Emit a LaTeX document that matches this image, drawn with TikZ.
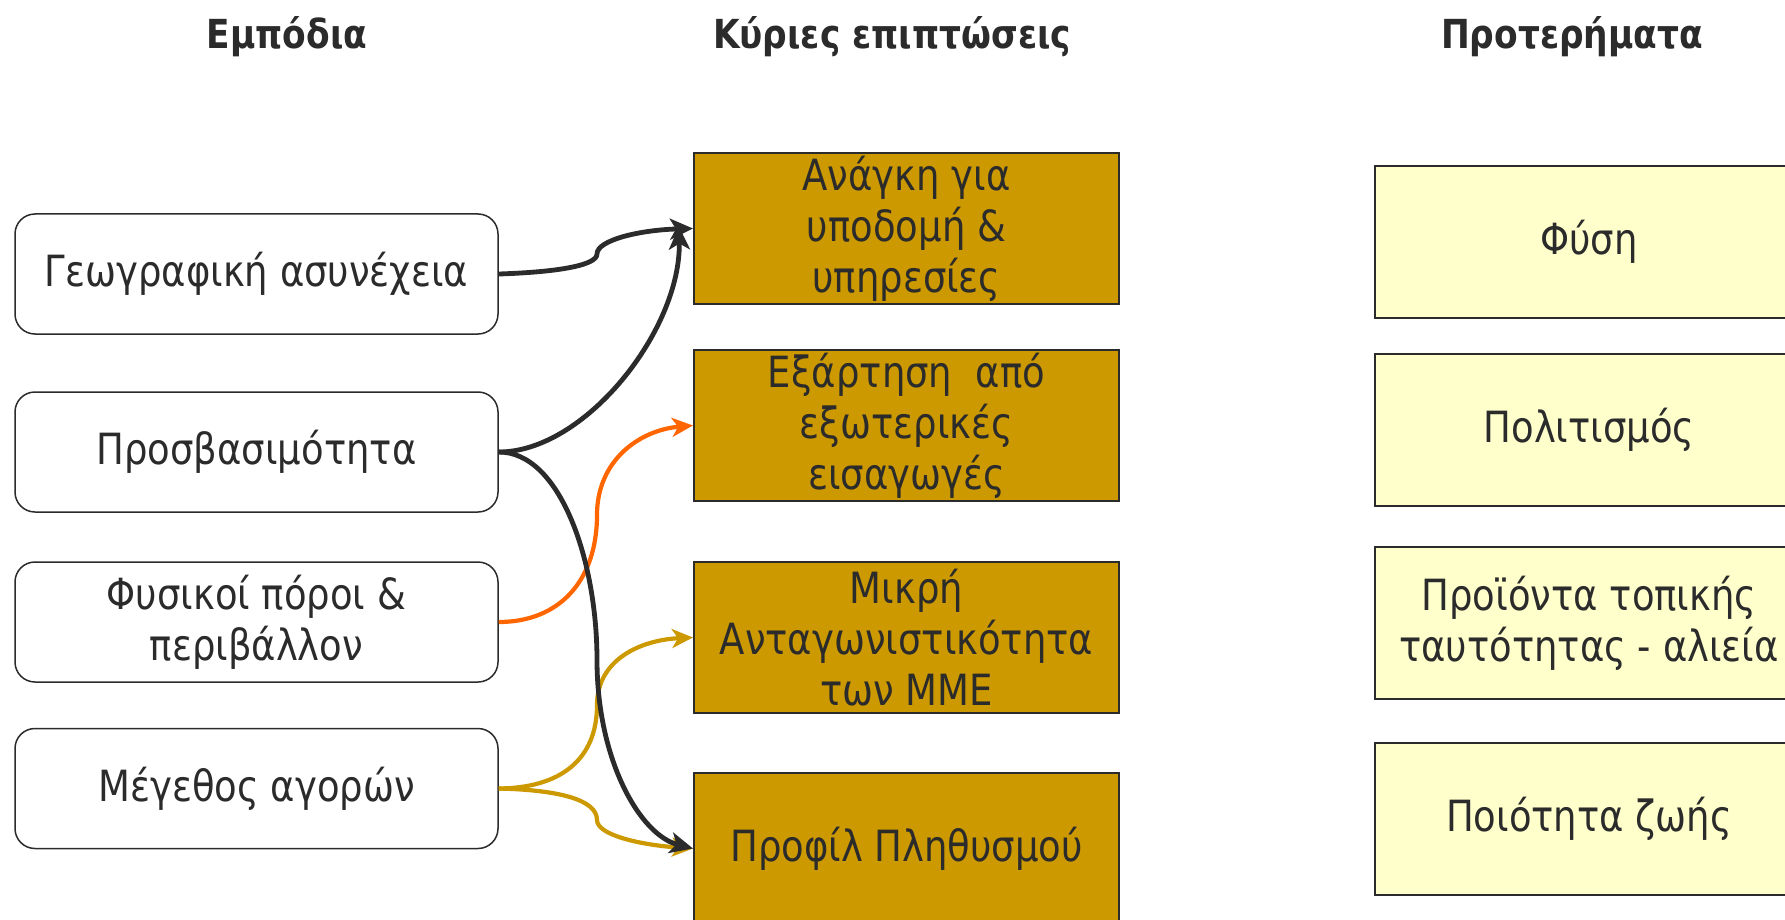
\documentclass[tikz,border=0pt]{standalone}
\usepackage{fontspec}
\setmainfont[FakeStretch=0.86]{DejaVu Sans}
\usetikzlibrary{arrows.meta,calc}
\definecolor{ink}{HTML}{2B2B2B}
\definecolor{gold}{HTML}{CC9900}
\definecolor{orng}{HTML}{FF6600}
\definecolor{pale}{HTML}{FFFFCC}
\tikzset{
 txt/.style={font=\fontsize{43}{51}\selectfont, text=ink, align=center},
 leftbox/.style={txt, draw=ink, line width=1.5pt, rounded corners=20pt, minimum width=483pt, minimum height=120pt, inner sep=0pt},
 midbox/.style={txt, draw=ink, fill=gold, line width=2pt, minimum width=425pt, minimum height=151pt, inner sep=0pt},
 rightbox/.style={txt, draw=ink, fill=pale, line width=2pt, minimum width=428pt, minimum height=152pt, inner sep=0pt},
 head/.style={font=\bfseries\fontsize{40}{48}\selectfont, text=ink},
 link/.style={line width=4.8pt, -{Stealth[length=23pt,width=21pt,inset=6pt]}},
 thinlink/.style={line width=4.2pt, -{Stealth[length=21pt,width=19pt,inset=6pt]}},
}
\begin{document}
\begin{tikzpicture}[x=1pt,y=-1pt]
\clip (0,0) rectangle (1785,920);
\fill[white] (0,0) rectangle (1785,920);
% headers
\node[head] (h1) at (287,37) {Εμπόδια};
\node[head] (h2) at (892,37) {Κύριες επιπτώσεις};
\node[head] (h3) at (1572,37) {Προτερήματα};
% left column
\node[leftbox] (L1) at (256.5,274) {Γεωγραφική ασυνέχεια};
\node[leftbox] (L2) at (256.5,452) {Προσβασιμότητα};
\node[leftbox] (L3) at (256.5,622) {Φυσικοί πόροι \&\\περιβάλλον};
\node[leftbox] (L4) at (256.5,788.5) {Μέγεθος αγορών};
% middle column
\node[midbox] (M1) at (906.5,228.5) {Ανάγκη για\\υποδομή \&\\υπηρεσίες};
\node[midbox] (M2) at (906.5,425.5) {Εξάρτηση\ \ από\\εξωτερικές\\εισαγωγές};
\node[midbox] (M3) at (906.5,637.5) {Μικρή\\Ανταγωνιστικότητα\\των ΜΜΕ};
\node[midbox] (M4) at (906.5,848.5) {Προφίλ Πληθυσμού};
% right column
\node[rightbox] (R1) at (1589,242) {Φύση};
\node[rightbox] (R2) at (1589,430) {Πολιτισμός};
\node[rightbox] (R3) at (1589,623) {Προϊόντα τοπικής\\ταυτότητας - αλιεία};
\node[rightbox] (R4) at (1589,818.5) {Ποιότητα ζωής};
\coordinate (m1b) at ($(M1.west)+(-14,-2)$);
% coloured connectors
\draw[thinlink, orng] (L3.east) .. controls (560,622) and (597,580) .. (597,515) .. controls (597,460) and (640,430) .. (M2.west);
\draw[thinlink, gold] (L4.east) .. controls (560,788) and (597,760) .. (597,705) .. controls (597,660) and (640,640) .. (M3.west);
\draw[thinlink, gold] (L4.east) .. controls (560,790) and (597,800) .. (597,820) .. controls (597,835) and (640,845) .. (M4.west);
% black connectors
\draw[link, ink] (L1.east) .. controls (560,272) and (597,265) .. (597,254) .. controls (597,240) and (640,230) .. (M1.west);
\draw[link, ink] (L2.east) .. controls (585,452) and (681,330) .. (m1b);
\draw[link, ink] (L2.east) .. controls (560,452) and (597,560) .. (597,660) .. controls (597,760) and (640,835) .. (M4.west);
\end{tikzpicture}
\end{document}
